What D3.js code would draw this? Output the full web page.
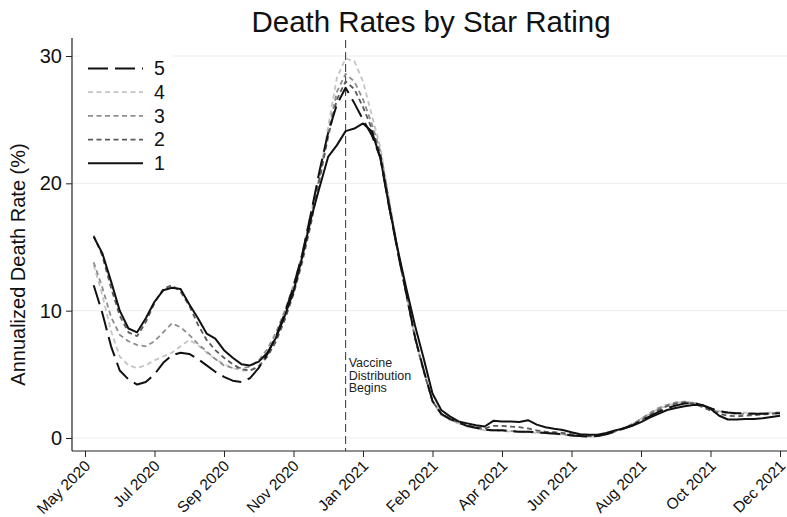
<!DOCTYPE html>
<html>
<head>
<meta charset="utf-8">
<script src="https://cdn.jsdelivr.net/npm/d3@7"></script>
<style>
  html, body { margin: 0; padding: 0; background: #fff; }
  svg { display: block; font-family: "Liberation Sans", Arial, sans-serif; }
</style>
</head>
<body>
<svg id="chart" width="787" height="517"></svg>
<script>
// Weekly observations (Sundays), 31 May 2020 through 5 Dec 2021
const weeks = d3.timeWeek.range(new Date(2020, 4, 31), new Date(2021, 11, 6));

// Annualized death rate (%) by star rating, one value per week
const rating5 = [
  12.0, 9.8, 7.2, 5.3, 4.6, 4.2, 4.4, 5.0, 5.9, 6.5,
  6.7, 6.6, 6.2, 5.7, 5.2, 4.8, 4.5, 4.4, 4.7, 5.5,
  6.6, 8.0, 9.8, 11.9, 14.4, 17.6, 21.0, 24.0, 26.2, 27.5,
  26.3, 25.0, 23.8, 22.0, 18.2, 14.6, 11.3, 7.9, 5.3, 2.9,
  1.9, 1.5, 1.2, 0.95, 0.8, 0.65, 0.6, 0.6, 0.55, 0.5,
  0.5, 0.45, 0.4, 0.35, 0.3, 0.2, 0.15, 0.12, 0.15, 0.3,
  0.5, 0.75, 1.0, 1.35, 1.7, 2.05, 2.35, 2.55, 2.7, 2.75,
  2.6, 2.35, 2.1, 2.0, 1.95, 1.95, 1.9, 1.9, 1.95, 1.95
];
const rating4 = [
  13.6, 11.2, 8.4, 6.4, 5.7, 5.5, 5.7, 6.1, 6.4, 6.7,
  7.2, 7.7, 7.3, 6.7, 6.2, 5.8, 5.5, 5.3, 5.3, 5.7,
  6.6, 7.9, 9.6, 11.8, 14.5, 17.7, 20.5, 24.5, 28.3, 29.8,
  29.6, 28.0, 25.4, 22.8, 18.8, 14.9, 11.3, 7.8, 5.2, 2.9,
  1.8, 1.4, 1.15, 0.9, 0.75, 0.6, 0.55, 0.55, 0.5, 0.45,
  0.45, 0.4, 0.35, 0.3, 0.25, 0.18, 0.12, 0.1, 0.12, 0.28,
  0.5, 0.8, 1.1, 1.5, 1.9, 2.3, 2.55, 2.75, 2.85, 2.8,
  2.6, 2.3, 2.1, 2.0, 1.95, 2.0, 1.95, 1.95, 2.0, 2.05
];
const rating3 = [
  13.8, 11.8, 9.5, 8.1, 7.6, 7.3, 7.2, 7.6, 8.3, 9.0,
  8.7, 8.1, 7.4, 6.8, 6.2, 5.7, 5.5, 5.5, 5.6, 6.1,
  7.0, 8.3, 10.0, 12.0, 14.4, 17.5, 20.5, 24.0, 27.2, 28.6,
  28.0, 26.6, 24.7, 22.5, 18.6, 14.7, 11.2, 7.8, 5.2, 2.9,
  1.9, 1.45, 1.2, 0.95, 0.8, 0.65, 0.6, 0.6, 0.55, 0.5,
  0.5, 0.45, 0.4, 0.35, 0.3, 0.2, 0.15, 0.12, 0.15, 0.3,
  0.5, 0.8, 1.1, 1.5, 1.95, 2.35, 2.6, 2.8, 2.85, 2.75,
  2.5, 2.2, 2.05, 1.95, 1.9, 1.9, 1.85, 1.9, 1.95, 2.0
];
const rating2 = [
  15.9, 14.3, 11.8, 9.6, 8.3, 8.0, 9.1, 10.6, 11.7, 12.0,
  11.5, 10.4, 8.9, 7.7, 6.9, 6.3, 5.8, 5.4, 5.3, 5.6,
  6.4, 7.6, 9.3, 11.3, 13.8, 16.8, 20.3, 23.7, 26.6, 28.0,
  27.4, 26.0, 24.3, 22.3, 18.5, 14.7, 11.2, 7.8, 5.2, 2.9,
  1.9, 1.5, 1.25, 1.0, 0.85, 0.75, 0.95, 0.95, 0.9, 0.85,
  0.75, 0.6, 0.5, 0.45, 0.4, 0.3, 0.2, 0.15, 0.2, 0.35,
  0.55, 0.75, 1.0, 1.4, 1.8, 2.2, 2.5, 2.7, 2.8, 2.7,
  2.45, 2.15, 1.9, 1.75, 1.7, 1.75, 1.8, 1.85, 1.9, 1.95
];
const rating1 = [
  15.8, 14.5, 12.3, 10.0, 8.6, 8.3, 9.4, 10.7, 11.6, 11.8,
  11.7, 10.5, 9.4, 8.2, 7.8, 6.9, 6.3, 5.8, 5.7, 6.0,
  6.7, 7.9, 9.6, 11.5, 14.2, 17.2, 19.7, 22.1, 23.0, 24.1,
  24.3, 24.7, 24.1, 22.0, 18.2, 14.8, 11.7, 8.8, 6.2, 3.5,
  2.2, 1.7, 1.3, 1.15, 1.0, 0.9, 1.35, 1.3, 1.3, 1.25,
  1.4, 1.05, 0.85, 0.72, 0.63, 0.45, 0.3, 0.25, 0.25, 0.4,
  0.6, 0.75, 0.95, 1.25, 1.6, 1.9, 2.2, 2.35, 2.5, 2.6,
  2.6, 2.3, 1.75, 1.45, 1.45, 1.5, 1.5, 1.55, 1.65, 1.75
];

const ratingNames = ["5", "4", "3", "2", "1"];
const ratingValues = [rating5, rating4, rating3, rating2, rating1];

// Axis ticks: every eighth week from 24 May 2020
const tickLabels = ["May 2020", "Jul 2020", "Sep 2020", "Nov 2020", "Jan 2021",
  "Feb 2021", "Apr 2021", "Jun 2021", "Aug 2021", "Oct 2021", "Dec 2021"];
const tickDates = tickLabels.map((_, i) => d3.timeDay.offset(new Date(2020, 4, 24), 56 * i));
const yTicks = [0, 10, 20, 30];
const vaccineDate = new Date(2020, 11, 20);

// Line styles, in legend order
const styles = [
  { color: "#111", dash: "20,7", width: 2 },
  { color: "#c4c4c4", dash: "5,3.5", width: 1.8 },
  { color: "#8e8e8e", dash: "5,3.5", width: 1.8 },
  { color: "#5a5a5a", dash: "5,3.5", width: 1.8 },
  { color: "#111", dash: null, width: 2 }
];

const svg = d3.select("#chart");
const plot = { left: 72, right: 787, top: 38, bottom: 451 };

const xBase = d3.scaleTime().domain([tickDates[0], tickDates[10]]).range([85, 780]);
const x = d3.scaleTime()
  .domain([xBase.invert(plot.left), xBase.invert(plot.right)])
  .range([plot.left, plot.right]);
const y = d3.scaleLinear().domain([0, 30]).range([438, 56]);

// Gridlines
svg.append("g")
  .selectAll("line")
  .data(yTicks)
  .join("line")
  .attr("x1", plot.left).attr("x2", plot.right)
  .attr("y1", d => y(d)).attr("y2", d => y(d))
  .attr("stroke", "#ececec").attr("stroke-width", 1);

// Title
svg.append("text")
  .attr("x", 431).attr("y", 32)
  .attr("text-anchor", "middle")
  .attr("font-size", 29.5)
  .attr("fill", "#111")
  .text("Death Rates by Star Rating");

// Y axis
const yAxis = svg.append("g")
  .attr("transform", `translate(${plot.left},0)`)
  .call(d3.axisLeft(y).tickValues(yTicks).tickSize(6).tickPadding(4));
yAxis.select(".domain").remove();
yAxis.selectAll("text").attr("font-size", 20).attr("fill", "#111")
  .attr("font-family", "Liberation Sans, Arial, sans-serif");
yAxis.selectAll(".tick line").attr("stroke", "#222");
svg.append("line")
  .attr("x1", plot.left).attr("x2", plot.left)
  .attr("y1", plot.top).attr("y2", plot.bottom)
  .attr("stroke", "#222").attr("stroke-width", 1.2);

svg.append("text")
  .attr("transform", `translate(25,${(plot.top + plot.bottom) / 2 + 20}) rotate(-90)`)
  .attr("text-anchor", "middle")
  .attr("font-size", 20)
  .attr("fill", "#111")
  .text("Annualized Death Rate (%)");

// X axis with labels slanted so that each ends just under its tick
const xAxis = svg.append("g")
  .attr("transform", `translate(0,${plot.bottom})`)
  .call(d3.axisBottom(x).tickValues(tickDates).tickFormat((d, i) => tickLabels[i]).tickSize(6));
xAxis.select(".domain").remove();
xAxis.selectAll(".tick line").attr("stroke", "#222");
xAxis.selectAll("text")
  .attr("font-size", 15.5).attr("fill", "#111")
  .attr("font-family", "Liberation Sans, Arial, sans-serif")
  .attr("text-anchor", "end")
  .attr("x", 0).attr("y", 0)
  .attr("dy", "0.35em")
  .attr("transform", "translate(2,12) rotate(-45)");
svg.append("line")
  .attr("x1", plot.left).attr("x2", plot.right)
  .attr("y1", plot.bottom).attr("y2", plot.bottom)
  .attr("stroke", "#222").attr("stroke-width", 1.2);

// Vaccine distribution marker
svg.append("line")
  .attr("x1", x(vaccineDate)).attr("x2", x(vaccineDate))
  .attr("y1", plot.top + 2).attr("y2", plot.bottom)
  .attr("stroke", "#333").attr("stroke-width", 1)
  .attr("stroke-dasharray", "8,4");
svg.append("text")
  .attr("x", x(vaccineDate) + 3).attr("y", 367)
  .attr("font-size", 12.5).attr("fill", "#222")
  .selectAll("tspan")
  .data(["Vaccine", "Distribution", "Begins"])
  .join("tspan")
  .attr("x", x(vaccineDate) + 3)
  .attr("dy", (d, i) => i === 0 ? 0 : 12.5)
  .text(d => d);

// Series lines, drawn with rating 1 last so it sits on top
const line = d3.line()
  .x((d, i) => x(weeks[i]))
  .y(d => y(d));

const order = [1, 2, 3, 0, 4];
order.forEach(k => {
  const s = styles[k];
  svg.append("path")
    .datum(ratingValues[k])
    .attr("fill", "none")
    .attr("stroke", s.color)
    .attr("stroke-width", s.width)
    .attr("stroke-linejoin", "round")
    .attr("stroke-dasharray", s.dash)
    .attr("d", line);
});

// Legend
const legend = svg.append("g");
legend.append("rect")
  .attr("x", 79).attr("y", 50).attr("width", 94).attr("height", 127)
  .attr("fill", "#fff");
ratingNames.forEach((name, i) => {
  const ly = 68.5 + i * 23.7;
  const s = styles[i];
  legend.append("line")
    .attr("x1", 88).attr("x2", 143)
    .attr("y1", ly).attr("y2", ly)
    .attr("stroke", s.color).attr("stroke-width", s.width)
    .attr("stroke-dasharray", s.dash);
  legend.append("text")
    .attr("x", 154).attr("y", ly)
    .attr("dy", "0.35em")
    .attr("font-size", 19.5).attr("fill", "#111")
    .text(name);
});
</script>
</body>
</html>
